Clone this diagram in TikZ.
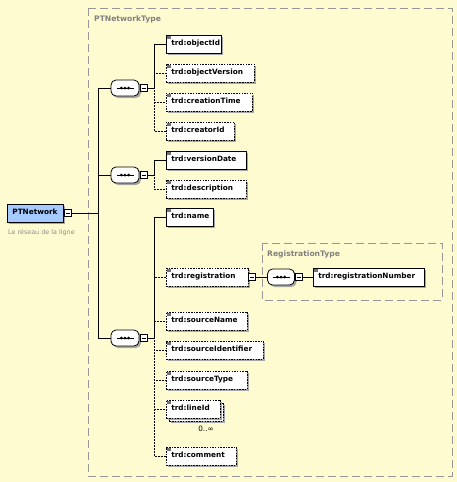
\documentclass[tikz,border=0pt]{standalone}
\usepackage{fontspec}
\setmainfont{DejaVu Sans}
\usetikzlibrary{shadows}
\definecolor{bgyel}{RGB}{255,251,208}
\definecolor{ptblue}{RGB}{165,202,255}
\definecolor{typegray}{RGB}{150,150,150}
\newcommand\elfont{\fontsize{7.3}{8}\bfseries}
\newcommand\mnbox[3]{\node[minusbox] (#1) at (#2,#3) {};
  \draw[line width=0.7pt] ([xshift=-2pt]#1.center) -- ([xshift=2pt]#1.center);}
\newcommand\seqsym[1]{\draw[line width=0.8pt] ([xshift=-8.5pt]#1.center) -- ([xshift=8.5pt]#1.center);
  \foreach \d in {-3.6,0,3.6} \fill ([xshift=\d pt]#1.center) circle (1.5pt);}
\newcommand\eicon[1]{\fill[black!55] ([shift={(1pt,-1pt)}]#1.north west) rectangle ++(3.5pt,-3.5pt);}
\tikzset{
  shad/.style={drop shadow={shadow xshift=2pt,shadow yshift=-2pt,fill=black!35,opacity=1}},
  elem/.style={draw=black, line width=0.8pt, fill=white, anchor=west, minimum height=18pt,
    inner xsep=5pt, inner ysep=0pt, font=\elfont, text height=5.3pt, text depth=1.5pt,
    align=left, shad},
  opt/.style={elem, dash pattern=on 1.5pt off 1.2pt},
  seq/.style={draw=black, line width=0.8pt, fill=white, rounded corners=5pt, minimum width=28pt,
    minimum height=16pt, inner sep=0pt, shad},
  minusbox/.style={draw=black, line width=0.7pt, fill=white, minimum size=7pt, inner sep=0pt},
  conn/.style={line width=0.8pt},
  optconn/.style={line width=0.8pt, dash pattern=on 1.5pt off 1.5pt},
  typebox/.style={draw=typegray, line width=0.9pt, dash pattern=on 8pt off 4pt},
  typelabel/.style={anchor=west, text=black!50, font=\fontsize{7.6}{8}\bfseries, inner sep=0pt},
}
\begin{document}
\begin{tikzpicture}[x=1pt,y=-1pt]
\fill[bgyel] (0,0) rectangle (457,482);
\useasboundingbox (0,0) rectangle (457,482);
% type boxes
\draw[typebox] (88,8) rectangle (452,476);
\node[typelabel] (ptt) at (94,19) {PTNetworkType};
\draw[typebox] (262,243) rectangle (442,300);
\node[typelabel] (rgt) at (267,254) {RegistrationType};
% root
\node[elem, fill=ptblue, text width=46pt] (ptn) at (7,213) {PTNetwork};
\mnbox{ptm}{67.5}{213}
\node[anchor=west, inner sep=0pt, text=black!45, font=\fontsize{6.4}{7}\selectfont] (cap) at (8,233) {Le réseau de la ligne};
% compositors
\node[seq] (c1) at (125,88) {}; \seqsym{c1} \mnbox{c1m}{143.5}{88}
\node[seq] (c2) at (125,175) {}; \seqsym{c2} \mnbox{c2m}{143.5}{175}
\node[seq] (c3) at (125,338) {}; \seqsym{c3} \mnbox{c3m}{143.5}{338}
\coordinate (tk) at (98,213);
\draw[conn] (c1.west) -| (tk) -- (ptm.east);
\draw[conn] (c2.west) -| (tk);
\draw[conn] (c3.west) -| (tk);
\coordinate (v1) at (154,88);
\coordinate (v2) at (154,175);
\coordinate (v3) at (154,338);
% group 1
\node[elem, text width=45pt] (oid) at (166,44) {trd:objectId};
\node[opt, text width=78pt] (over) at (166,73) {trd:objectVersion};
\node[opt, text width=76pt] (ctime) at (166,102) {trd:creationTime};
\node[opt, text width=58pt] (cid) at (166,131) {trd:creatorId};
% group 2
\node[elem, text width=70pt] (vdate) at (166,160) {trd:versionDate};
\node[opt, text width=70pt] (desc) at (166,189) {trd:description};
% group 3
\node[elem, text width=37pt] (name) at (166,217) {trd:name};
\node[opt, text width=72pt] (reg) at (166,277) {trd:registration};
\node[opt, text width=71pt] (sname) at (166,321) {trd:sourceName};
\node[opt, text width=87pt] (sid) at (166,350) {trd:sourceIdentifier};
\node[opt, text width=71pt] (stype) at (166,380) {trd:sourceType};
\node[opt, text width=44pt] (lidb) at (169,412) {\phantom{trd:lineId}};
\node[opt, text width=44pt] (lid) at (166,409) {trd:lineId};
\node[inner sep=0pt, font=\fontsize{7.3}{8}\selectfont] (card) at (206,429) {0..∞};
\node[opt, text width=60pt] (com) at (166,456) {trd:comment};
% registration subtree
\mnbox{rm}{251.5}{277}
\node[seq, minimum width=27pt] (cr) at (281,277) {}; \seqsym{cr} \mnbox{crm}{298.5}{277}
\node[elem, text width=101pt] (rnum) at (313,277) {trd:registrationNumber};
\draw[conn] (rm.east) -- (cr.west);
\draw[conn] (crm.east) -- (rnum.west);
% icons
\foreach \n in {oid,over,ctime,cid,vdate,desc,name,reg,sname,sid,stype,lid,com,rnum} {\eicon{\n}}
% connectors group 1
\draw[optconn] (c1m.east) -- (v1) |- (cid.west);
\draw[optconn] (c1m.east) -- (v1) |- (ctime.west);
\draw[optconn] (c1m.east) -- (v1) |- (over.west);
\draw[conn] (c1m.east) -- (v1) |- (oid.west);
% group 2
\draw[optconn] (c2m.east) -- (v2) |- (desc.west);
\draw[conn] (c2m.east) -- (v2) |- (vdate.west);
% group 3
\draw[optconn] (c3m.east) -- (v3) |- (com.west);
\draw[optconn] (c3m.east) -- (v3) |- (lid.west);
\draw[optconn] (c3m.east) -- (v3) |- (stype.west);
\draw[optconn] (c3m.east) -- (v3) |- (sid.west);
\draw[optconn] (c3m.east) -- (v3) |- (sname.west);
\draw[optconn] (c3m.east) -- (v3) |- (reg.west);
\draw[conn] (c3m.east) -- (v3) |- (name.west);
\end{tikzpicture}
\end{document}
